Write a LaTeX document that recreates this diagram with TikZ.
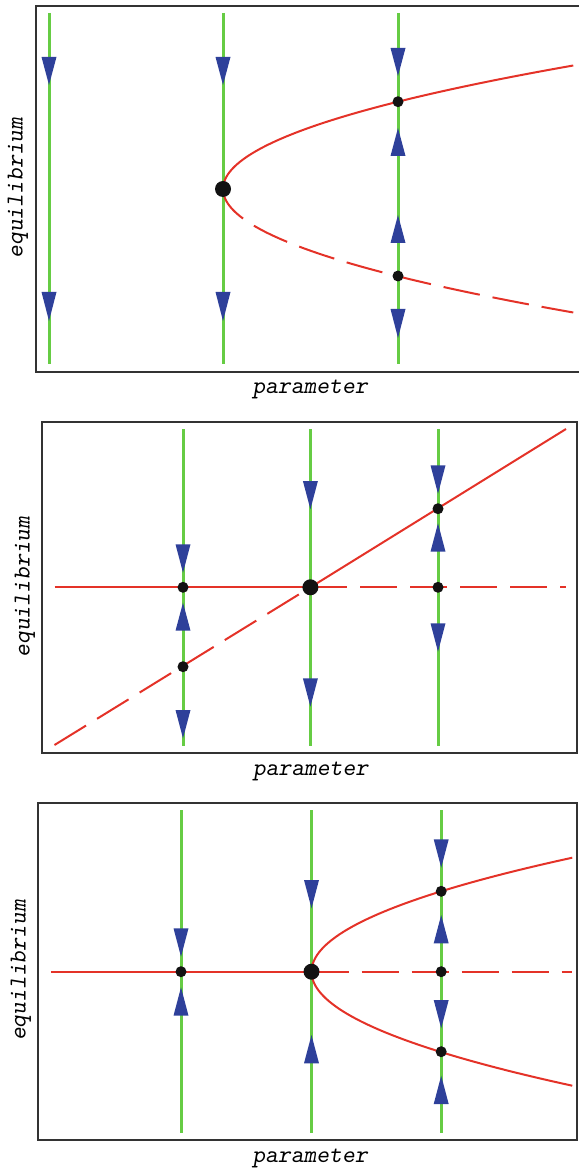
\documentclass[tikz,border=0pt]{standalone}
\usetikzlibrary{positioning}

\definecolor{flowgreen}{RGB}{102,204,68}
\definecolor{flowblue}{RGB}{46,64,154}
\definecolor{branchred}{RGB}{228,50,40}
\definecolor{boxgray}{RGB}{51,51,51}

\tikzset{
    panelbox/.style={draw=boxgray, line width=1pt},
    flowline/.style={draw=flowgreen, line width=1.5pt},
    branch/.style={draw=branchred, line width=1pt},
    unstable/.style={branch, dash pattern=on 18.5pt off 6.5pt},
    eqdot/.style={circle, fill=black!93, inner sep=0pt, minimum size=5.5pt},
    bifdot/.style={eqdot, minimum size=8pt},
    axislabel/.style={font=\fontsize{12.2}{14}\selectfont\ttfamily\slshape, inner sep=0pt},
}
\newcommand{\flowtri}[3]{\fill[flowblue] (#1-7.5,#2) -- (#1+7.5,#2) -- (#1,#3) -- cycle;}

\begin{document}
\begin{tikzpicture}[x=0.5pt, y=-0.5pt]
    \useasboundingbox (0,0) rectangle (578,1170);

    % saddle-node
    \draw [panelbox] (36,6) rectangle (590,372);
    \foreach \c in {49,223,398}
        \draw [flowline] (\c,13) -- (\c,364);
    \draw [branch] plot [domain=-123.5:0, samples=60, smooth, variable=\t] ({223+0.02296*\t*\t},{189+\t});
    \draw [unstable] plot [domain=0:123.5, samples=60, smooth, variable=\t] ({223+0.02296*\t*\t},{189+\t});
    \flowtri{49}{57}{85}
    \flowtri{49}{292}{321}
    \flowtri{223}{57}{85}
    \flowtri{223}{292}{321}
    \flowtri{398}{48}{76}
    \flowtri{398}{156}{128}
    \flowtri{398}{243}{215}
    \flowtri{398}{309}{338}
    \node [bifdot] (fold) at (223,189) {};
    \node [eqdot] (upperA) at (398,101.7) {};
    \node [eqdot] (lowerA) at (398,276) {};
    \node [axislabel, rotate=90] (eqlabelA) at (18,188) {equilibrium};
    \node [axislabel] (parlabelA) at (310,389) {parameter};

    % transcritical
    \draw [panelbox] (42.4,421.7) rectangle (577,752.7);
    \foreach \c in {183,310.4,438}
        \draw [flowline] (\c,429) -- (\c,746);
    \coordinate (cross) at (310.4,587.3);
    \coordinate (leftend) at (54.5,587.3);
    \coordinate (rightend) at (566,587.3);
    \coordinate (diagtop) at (566,429);
    \coordinate (diagbot) at (54.5,745);
    \draw [branch] (leftend) -- (cross);
    \draw [unstable] (cross) -- (rightend);
    \draw [branch] (cross) -- (diagtop);
    \draw [unstable] (diagbot) -- (cross);
    \flowtri{183}{544.3}{572.7}
    \flowtri{183}{630.7}{602.7}
    \flowtri{183}{710}{738.3}
    \flowtri{310.4}{481}{509.3}
    \flowtri{310.4}{678.3}{706.7}
    \flowtri{438}{465.3}{493.7}
    \flowtri{438}{551.7}{523.3}
    \flowtri{438}{623.3}{651.7}
    \node [bifdot] (transpt) at (cross) {};
    \node [eqdot] (midleftB) at (183,587.3) {};
    \node [eqdot] (lowleftB) at (183,666.7) {};
    \node [eqdot] (midrightB) at (438,587.3) {};
    \node [eqdot] (uprightB) at (438,508.7) {};
    \node [axislabel, rotate=90] (eqlabelB) at (25,587) {equilibrium};
    \node [axislabel] (parlabelB) at (310.5,771) {parameter};

    % pitchfork
    \draw [panelbox] (38.3,803.3) rectangle (577,1140);
    \foreach \c in {181,311.5,441.2}
        \draw [flowline] (\c,810) -- (\c,1132.7);
    \coordinate (fork) at (311.5,971.7);
    \coordinate (forkleft) at (50.9,971.7);
    \coordinate (forkright) at (572,971.7);
    \draw [branch] (forkleft) -- (fork);
    \draw [unstable] (fork) -- (forkright);
    \draw [branch] plot [domain=-114:114, samples=90, smooth, variable=\t] ({311.5+0.02006*\t*\t},{971.7+\t});
    \flowtri{181}{928.3}{956.7}
    \flowtri{181}{1015.7}{987.3}
    \flowtri{311.5}{880}{908.3}
    \flowtri{311.5}{1063.3}{1035}
    \flowtri{441.2}{839.3}{867.7}
    \flowtri{441.2}{943.3}{915}
    \flowtri{441.2}{1000}{1028.3}
    \flowtri{441.2}{1104}{1075.7}
    \node [bifdot] (forkpt) at (fork) {};
    \node [eqdot] (midleftC) at (181,971.7) {};
    \node [eqdot] (upperC) at (441.2,891.3) {};
    \node [eqdot] (midC) at (441.2,971.7) {};
    \node [eqdot] (lowerC) at (441.2,1051.7) {};
    \node [axislabel, rotate=90] (eqlabelC) at (21,970.5) {equilibrium};
    \node [axislabel] (parlabelC) at (310,1158) {parameter};
\end{tikzpicture}
\end{document}
